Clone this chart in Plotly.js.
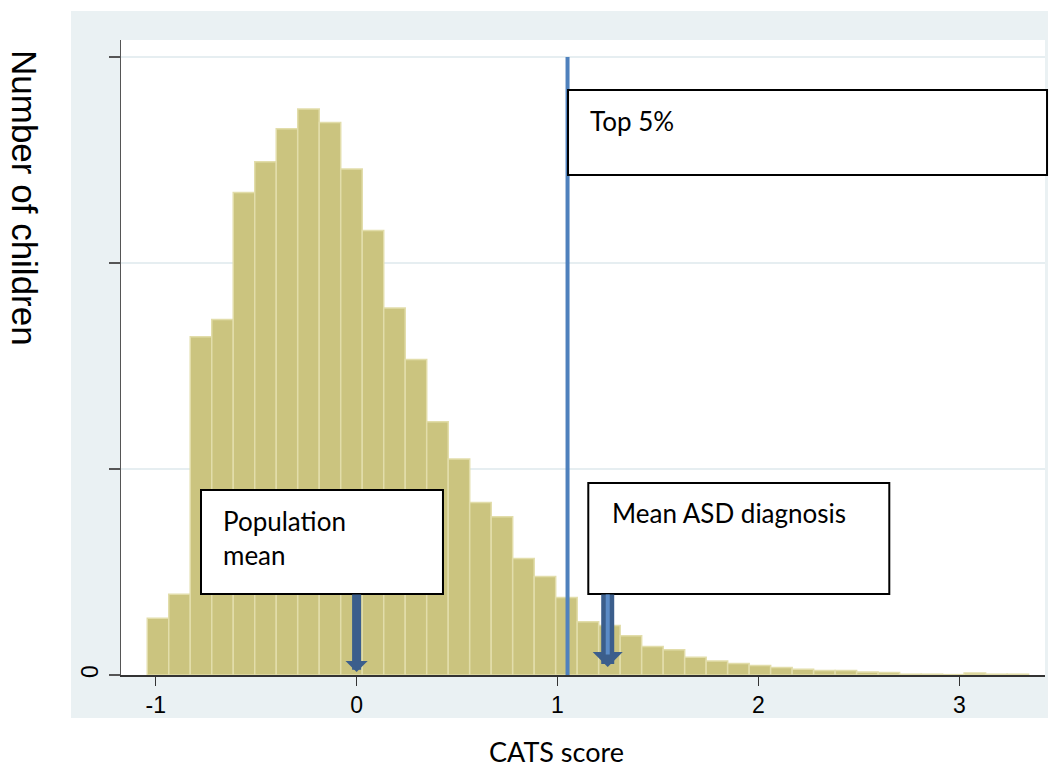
<!DOCTYPE html>
<html><head><meta charset="utf-8">
<script src="https://cdn.plot.ly/plotly-3.0.1.min.js"></script>
<style>html,body{margin:0;padding:0;background:#fff}</style>
</head><body><div id="chart" style="width:1061px;height:773px"></div>
<script>
// ---- data ----
const binStart = -1.042;      // left edge of first bin (CATS score)
const binWidth = 0.107;       // histogram bin width
const counts = [138,196,821,863,1171,1246,1326,1374,1341,1228,1079,891,766,615,524,419,384,283,239,188,129,120,95,69,61,43,34,28,23,18,14,11,11,7,6,2,2,1,5,2,2];
const xTickVals = [-1,0,1,2,3];
const xTickText = ['-1','0','1','2','3'];
const yTickVals = [0,500,1000,1500];
const yTickText = ['0','','',''];
const top5Cutoff = 1.05;
const populationMean = 0;
const asdMean = 1.25;
const labelTop5 = 'Top 5%';
const labelPop = 'Population<br>mean';
const labelASD = 'Mean ASD diagnosis';
const xTitle = 'CATS score';
const yTitle = 'Number of children';

const centers = counts.map((c,i) => binStart + (i + 0.5) * binWidth);

const boxFont = {family:'Lato, sans-serif', size:26, color:'#000'};
const arrowDark = '#3b5e8c';
const tinyFont = {size:1, color:'rgba(0,0,0,0)'};

const trace = {
  type:'bar', x:centers, y:counts, width:binWidth,
  marker:{color:'#cbc47f', line:{color:'#e2ddaa', width:1.5}},
  hoverinfo:'skip'
};

const layout = {
  width:1061, height:773,
  margin:{l:121, r:16, t:40, b:98},
  paper_bgcolor:'#ffffff', plot_bgcolor:'#ffffff',
  showlegend:false, bargap:0,
  xaxis:{range:[-1.1727,3.4266], tickvals:xTickVals, ticktext:xTickText,
    ticks:'outside', ticklen:9, tickwidth:1.5, tickcolor:'#333',
    showline:true, linecolor:'#333', linewidth:1.5, showgrid:false, zeroline:false,
    tickfont:{family:'Liberation Sans, Arial, sans-serif', size:23, color:'#000'}},
  yaxis:{range:[0,1541.3], tickvals:yTickVals, ticktext:yTickText,
    ticks:'outside', ticklen:11, tickwidth:1.5, tickcolor:'#555', tickangle:90,
    showline:true, linecolor:'#555', linewidth:1.5, showgrid:true, gridcolor:'#e6eef1', gridwidth:2,
    zeroline:false,
    tickfont:{family:'Liberation Sans, Arial, sans-serif', size:23, color:'#000'}},
  shapes:[
    {type:'rect', xref:'paper', yref:'paper', x0:-0.0541, x1:1.0032, y0:-0.0677, y1:1.0457,
      fillcolor:'#eaf1f3', line:{width:0}, layer:'below'},
    {type:'rect', xref:'paper', yref:'paper', x0:0, x1:1, y0:0, y1:1,
      fillcolor:'#ffffff', line:{width:0}, layer:'below'},
    {type:'line', xref:'x', yref:'y', x0:top5Cutoff, x1:top5Cutoff, y0:-8, y1:1500,
      line:{color:'#4f81bd', width:4}, layer:'above'},
    {type:'rect', xref:'paper', yref:'paper', x0:0.4838, x1:1.0022, y0:0.7874, y1:0.9213,
      fillcolor:'#ffffff', line:{color:'#000', width:2}, layer:'above'},
    {type:'rect', xref:'x', yref:'y', x0:-0.7745, x1:0.430, y0:196.6, y1:449,
      fillcolor:'#ffffff', line:{color:'#000', width:2}, layer:'above'},
    {type:'rect', xref:'x', yref:'y', x0:1.1533, x1:2.6516, y0:196.6, y1:466,
      fillcolor:'#ffffff', line:{color:'#000', width:2}, layer:'above'}
  ],
  annotations:[
    {text:labelTop5, xref:'x', yref:'y', x:1.152, y:1388.4, xanchor:'left', yanchor:'top',
      showarrow:false, align:'left', font:boxFont},
    {text:labelPop, xref:'x', yref:'y', x:-0.675, y:417.5, xanchor:'left', yanchor:'top',
      showarrow:false, align:'left', font:boxFont},
    {text:labelASD, xref:'x', yref:'y', x:1.26, y:436.9, xanchor:'left', yanchor:'top',
      showarrow:false, align:'left', font:boxFont},
    // arrows
    {text:' ', font:tinyFont, borderpad:0, xref:'x', yref:'y', axref:'x', ayref:'y', x:populationMean, y:7.3, ax:populationMean, ay:198,
      showarrow:true, arrowhead:1, arrowwidth:9, arrowsize:0.41, arrowcolor:arrowDark, standoff:0, startstandoff:0},
    {text:' ', font:tinyFont, borderpad:0, xref:'x', yref:'y', axref:'x', ayref:'y', x:asdMean, y:19.4, ax:asdMean, ay:198,
      showarrow:true, arrowhead:1, arrowwidth:13, arrowsize:0.385, arrowcolor:arrowDark, standoff:0, startstandoff:0},
    {text:' ', font:tinyFont, borderpad:0, xref:'x', yref:'y', axref:'x', ayref:'y', x:asdMean, y:50, ax:asdMean, ay:198,
      showarrow:true, arrowhead:0, arrowwidth:4, arrowcolor:'#5b8bc6', standoff:0, startstandoff:0},
    // axis titles
    {text:xTitle, xref:'paper', yref:'paper', x:0.4713, y:-0.1197, xanchor:'center', yanchor:'middle',
      showarrow:false, font:{family:'Lato, sans-serif', size:27, color:'#000'}},
    {text:yTitle, xref:'paper', yref:'paper', x:-0.105, y:0.7512, xanchor:'center', yanchor:'middle',
      textangle:90, showarrow:false, font:{family:'Liberation Sans, Arial, sans-serif', size:35, color:'#000'}}
  ]
};

Plotly.newPlot('chart', [trace], layout, {displayModeBar:false, staticPlot:true});
</script>
</body></html>
